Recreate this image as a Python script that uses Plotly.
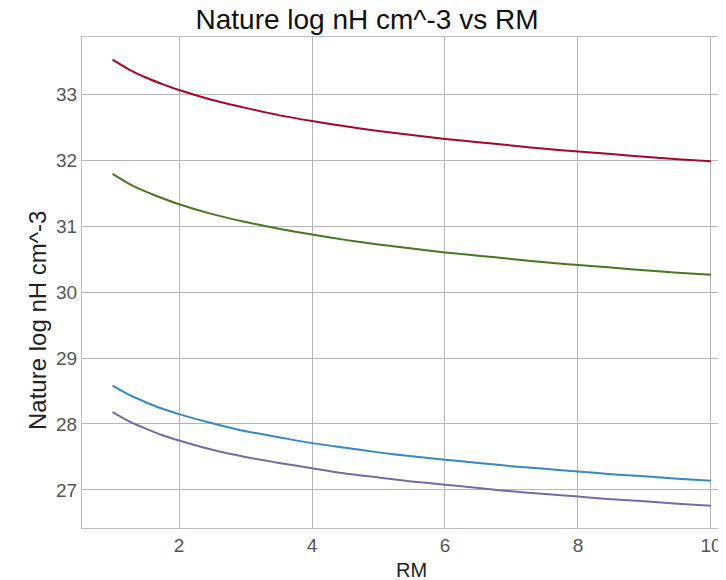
import plotly.graph_objects as go

rm = [1, 1.25, 1.5, 1.75, 2, 2.5, 3, 3.5, 4, 4.5, 5, 5.5, 6, 6.5, 7, 7.5, 8, 8.5, 9, 9.5, 10]
red = [33.52, 33.37, 33.25, 33.15, 33.06, 32.91, 32.79, 32.68, 32.59, 32.51, 32.44, 32.38, 32.32,
       32.27, 32.22, 32.17, 32.13, 32.09, 32.05, 32.01, 31.98]
green = [31.79, 31.64, 31.52, 31.42, 31.33, 31.18, 31.06, 30.96, 30.87, 30.79, 30.72, 30.66, 30.60,
         30.55, 30.50, 30.45, 30.41, 30.37, 30.33, 30.29, 30.26]
blue = [28.58, 28.44, 28.33, 28.23, 28.15, 28.01, 27.89, 27.80, 27.71, 27.64, 27.57, 27.51, 27.46,
        27.41, 27.36, 27.32, 27.28, 27.24, 27.21, 27.17, 27.14]
purple = [28.18, 28.04, 27.93, 27.83, 27.75, 27.61, 27.50, 27.41, 27.33, 27.25, 27.19, 27.13, 27.08,
          27.03, 26.98, 26.94, 26.90, 26.86, 26.83, 26.79, 26.76]

series = [
    ("red", red, "#A60628"),
    ("green", green, "#467821"),
    ("blue", blue, "#348ABD"),
    ("purple", purple, "#7A68A6"),
]

fig = go.Figure()
for name, vals, col in series:
    fig.add_trace(go.Scatter(x=rm, y=vals, mode="lines", name=name,
                             line=dict(color=col, width=2, shape="spline", smoothing=0.6)))

font = "Liberation Sans, Arial, sans-serif"
# page body has an 8px margin, so the figure is offset by 8px inside the window
fig.update_layout(
    width=718, height=572,
    margin=dict(l=74, r=0, t=29, b=52, autoexpand=False),
    paper_bgcolor="white", plot_bgcolor="white",
    showlegend=False,
    font=dict(family=font, size=19, color="#222"),
    title=dict(text="Nature log nH cm^-3 vs RM", x=0.5, xref="container", xanchor="center",
               y=0.981, yref="container", yanchor="middle", automargin=False,
               font=dict(family=font, size=28, color="#111")),
    annotations=[
        dict(text="RM", xref="paper", yref="paper", x=0.5124, y=-0.0855,
             xanchor="center", yanchor="middle", showarrow=False,
             font=dict(family=font, size=20, color="#222")),
        dict(text="Nature log nH cm^-3", xref="paper", yref="paper", x=-0.0699, y=0.4236,
             xanchor="center", yanchor="middle", showarrow=False, textangle=-90,
             font=dict(family=font, size=24, color="#222")),
    ],
)
fig.update_xaxes(
    range=[0.541, 10.226], tickvals=[2, 4, 6, 8, 10], automargin=False,
    showgrid=True, gridcolor="#b5b5b5", gridwidth=1,
    showline=True, linecolor="#bcbcbc", linewidth=1, mirror=True,
    zeroline=False, ticks="", tickfont=dict(size=19, color="#555"),
)
fig.update_yaxes(
    range=[26.424, 33.864], tickvals=[27, 28, 29, 30, 31, 32, 33], automargin=False,
    showgrid=True, gridcolor="#b5b5b5", gridwidth=1,
    showline=True, linecolor="#bcbcbc", linewidth=1, mirror=True,
    zeroline=False, ticks="", tickfont=dict(size=19, color="#555"),
)

fig.write_html("out.html")
